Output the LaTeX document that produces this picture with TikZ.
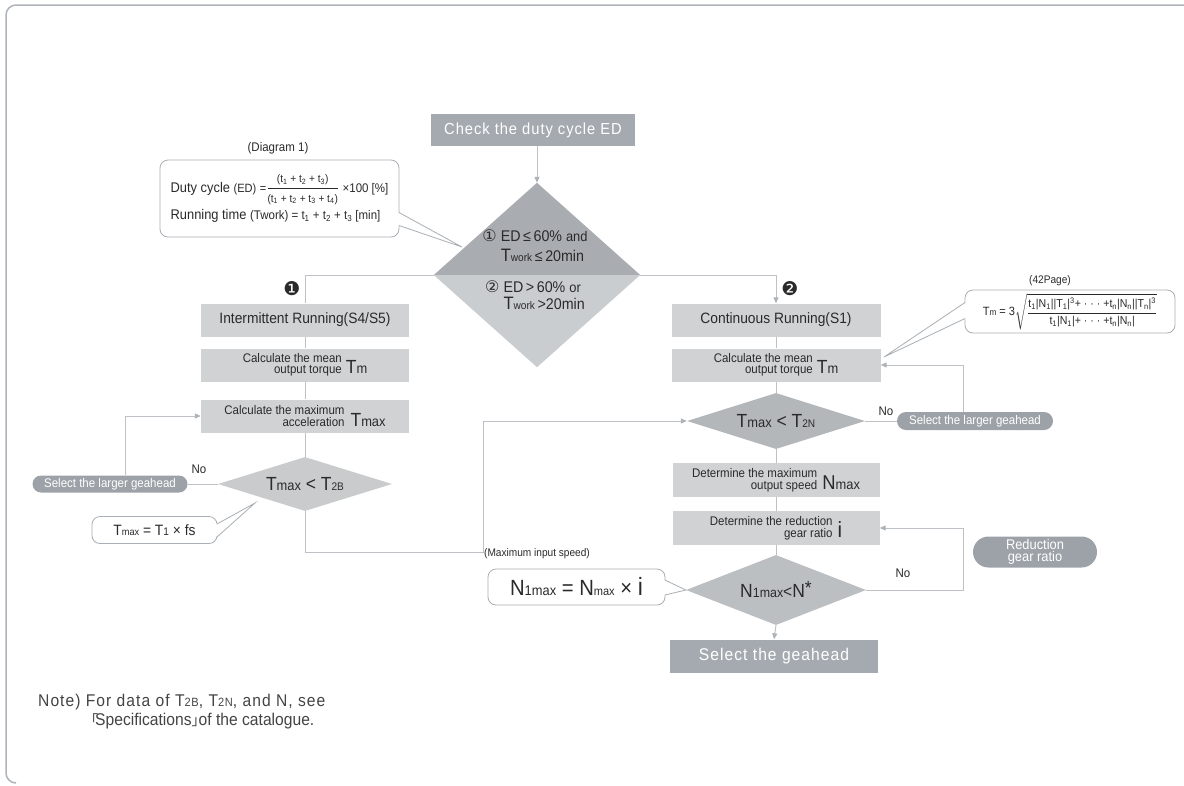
\documentclass[tikz,border=0pt]{standalone}
\usepackage{amsmath}
\usepackage{fontspec}
\setmainfont{Liberation Sans}[FakeStretch=0.92]
\newfontfamily\widefont{Liberation Sans}[FakeStretch=0.92,LetterSpace=6]
\newfontfamily\djv{DejaVu Sans}
\newfontfamily\cjk{Noto Sans CJK JP}
\usetikzlibrary{shapes.geometric,arrows.meta,calc}
\definecolor{dk}{HTML}{A5AAB0}
\definecolor{lt}{HTML}{D0D2D4}
\definecolor{diaB}{HTML}{C9CBCD}
\definecolor{diaN}{HTML}{B4B7BA}
\definecolor{diaR}{HTML}{BCBFC2}
\definecolor{mainup}{HTML}{A9ACB0}
\definecolor{mainlo}{HTML}{CACDCF}
\definecolor{pillc}{HTML}{9DA2A8}
\definecolor{ln}{HTML}{BEC2C6}
\definecolor{ah}{HTML}{AEB3B8}
\definecolor{cb}{HTML}{A9AFB5}
\definecolor{frm}{HTML}{AEB4BA}
\definecolor{txt}{HTML}{2A2A2A}
\definecolor{notec}{HTML}{444444}
\newcommand\fz[1]{\fontsize{#1}{#1}\selectfont}
\newcommand\tsb[1]{\textsubscript{#1}}
\newcommand\tsp[1]{\textsuperscript{#1}}
\begin{document}
\begin{tikzpicture}[x=1pt,y=-1pt,
  line/.style={draw=ln, line width=1pt},
  arr/.style={line, -{Triangle[length=6pt,width=5pt,color=ah]}},
  box/.style={rectangle, fill=lt, text=txt, inner sep=0pt, minimum width=208, minimum height=33},
  dkbox/.style={rectangle, fill=dk, text=white, inner sep=0pt},
  dia/.style={diamond, aspect=2.8, inner sep=0pt, text=txt},
  pill/.style={rectangle, fill=pillc, text=white, inner sep=0pt},
  callout/.style={rectangle, draw=cb, fill=white, line width=0.8pt, rounded corners=8, text=txt, inner sep=4pt},
  lab/.style={text=txt, inner sep=0pt},
  cl/.style={draw=cb, line width=0.8pt}
]
\useasboundingbox (0,0) rectangle (1184,785);
\fill[white] (0,0) rectangle (1184,785);
% frame
\draw[frm, line width=1.5pt, rounded corners=10] (16,783) -- (6,783) -- (6,5) -- (1184,5);

% ---------- top ----------
\node[dkbox, minimum width=204, minimum height=32] (check) at (533,130) {\widefont\fz{16}Check the duty cycle ED};
\node[diamond, minimum width=206, minimum height=184, inner sep=0pt] (dmain) at (537,275) {};
\fill[mainup] (dmain.north) -- (dmain.west) -- (dmain.east) -- cycle;
\fill[mainlo] (dmain.west) -- (dmain.south) -- (dmain.east) -- cycle;
\node[lab] (c1) at (535,248) {{\djv\fz{16}①}\hspace{4pt}{\fz{15.5}\begin{tabular}[t]{@{}l@{}}ED\,≤\,60\% {\fz{14}and}\\[3pt] {\fz{18}T}{\fz{11}work}\,≤\,20min\end{tabular}}};
\node[lab] (c2) at (535,297) {{\djv\fz{16}②}\hspace{4pt}{\fz{15.5}\begin{tabular}[t]{@{}l@{}}ED\,>\,60\% {\fz{14}or}\\[0pt] {\fz{18}T}{\fz{11}work}\,>20min\end{tabular}}};

\node[lab] (m1) at (292,289) {\djv\fz{19}❶};
\node[lab] (m2) at (790,289) {\djv\fz{19}❷};

% duty callout
\node[callout, minimum width=239, minimum height=77, align=left, inner sep=3pt] (cD) at (279.5,198.5)
 {\fz{14}Duty cycle {\fz{12}(ED)} {\fz{12}=}$\dfrac{\mbox{\fz{11}(t\tsb{1} + t\tsb{2} + t\tsb{3})}}{\mbox{\fz{11}(t\tsb{1} + t\tsb{2} + t\tsb{3} + t\tsb{4})}}$ {\fz{12.5}×100 [\%]}\\[4pt]
  \fz{14}Running time {\fz{12.5}(Twork) = t\tsb{1} + t\tsb{2} + t\tsb{3} [min]}};
\node[lab] (dlab) at (278,148) {\fz{12.5}(Diagram 1)};
\coordinate (tD) at (462,247);
\fill[white] ($(cD.east)+(-1.5,14)$) -- (tD) -- ($(cD.east)+(-1.5,27)$) -- cycle;
\draw[cl] ($(cD.east)+(-0.4,14)$) -- (tD) -- ($(cD.east)+(-0.4,27)$);

% ---------- left column ----------
\node[box] (int) at (305,320) {\fz{15}Intermittent Running(S4/S5)};
\node[box] (calcL) at (305,365) {{\fz{12.5}\shortstack[r]{Calculate the mean\\output torque}}\hspace{4pt}{\fz{19}T}{\fz{14}m}};
\node[box] (maxacc) at (305,416) {{\fz{12.5}\shortstack[r]{Calculate the maximum\\acceleration}}\hspace{6pt}{\fz{19}T}{\fz{14}max}};
\node[dia, fill=diaB, minimum width=174, minimum height=54] (dT2B) at (305,484) {\fz{19}T{\fz{14}max} < T{\fz{11}2B}};
\node[pill, minimum width=155, minimum height=17, rounded corners=8.5] (pillL) at (110,484) {\fz{12.5}Select the larger geahead};
\node[lab] (noL) at (199,469) {\fz{12.5}No};
\node[callout, minimum width=125, minimum height=27, inner sep=2pt] (cT) at (154.5,530) {\fz{15}T{\fz{10}max} = T{\fz{11}1} × fs};
\coordinate (tT) at (255,503);
\fill[white] ($(cT.east)+(-1.5,-6)$) -- (tT) -- ($(cT.east)+(-1.5,7)$) -- cycle;
\draw[cl] ($(cT.east)+(-0.4,-6)$) -- (tT) -- ($(cT.east)+(-0.4,7)$);

% ---------- right column ----------
\node[box, minimum width=209] (cont) at (776,320) {\fz{15}Continuous Running(S1)};
\node[box, minimum width=209] (calcR) at (776,365) {{\fz{12.5}\shortstack[r]{Calculate the mean\\output torque}}\hspace{4pt}{\fz{19}T}{\fz{14}m}};
\node[dia, fill=diaN, minimum width=178, minimum height=56] (dT2N) at (776,421) {\fz{19}T{\fz{14}max} < T{\fz{11}2N}};
\node[pill, minimum width=156, minimum height=18, rounded corners=9] (pillR) at (975,421) {\fz{12.5}Select the larger geahead};
\node[lab] (noR) at (886,411) {\fz{12.5}No};
\node[box, minimum width=207, minimum height=34] (nmax) at (776,480) {{\fz{12.5}\shortstack[r]{Determine the maximum\\output speed}}\hspace{5pt}{\fz{20}N}{\fz{14}max}};
\node[box, minimum width=207, minimum height=34] (ratio) at (776,528) {{\fz{12.5}\shortstack[r]{Determine the reduction\\gear ratio}}\hspace{5pt}{\fz{22}i}};
\node[dia, fill=diaR, minimum width=180, minimum height=70, aspect=2.6] (dN) at (776,590) {\fz{19}N{\fz{13.5}1max}{\fz{17}<}N\raisebox{3pt}{*}};
\node[lab] (noN) at (903,573) {\fz{12.5}No};
\node[pill, minimum width=124, minimum height=31, rounded corners=15.5, align=center, font={\fontsize{14}{12}\selectfont}] (pillG) at (1035,552) {Reduction\\gear ratio};
\node[dkbox, minimum width=208, minimum height=33] (final) at (774,656) {\widefont\fz{17}Select the geahead};

% Tm callout
\node[callout, minimum width=210, minimum height=43, inner sep=2pt] (cTm) at (1070,311.5)
 {\fz{12}T{\fz{9}m} = 3$\sqrt{\dfrac{\mbox{\fz{11.5}t\tsb{1}|N\tsb{1}||T\tsb{1}|\tsp{3}+ · · · +t\tsb{n}|N\tsb{n}||T\tsb{n}|\tsp{3}}}{\mbox{\fz{11.5}t\tsb{1}|N\tsb{1}|+ · · · +t\tsb{n}|N\tsb{n}|}}}$};
\node[lab] (p42) at (1050,281) {\fz{11}(42Page)};
\coordinate (tTm) at (884,357);
\fill[white] ($(cTm.west)+(1.5,-9)$) -- (tTm) -- ($(cTm.west)+(1.5,7)$) -- cycle;
\draw[cl] ($(cTm.west)+(0.4,-9)$) -- (tTm) -- ($(cTm.west)+(0.4,7)$);

% N callout
\node[callout, minimum width=177, minimum height=36, inner sep=2pt] (cN) at (576.5,587) {{\fz{22}N}{\fz{14}1max}{\fz{22} = N}{\fz{12}max}{\fz{22} × }{\fz{25}i}};
\node[lab] (mis) at (537,554) {\fz{11}(Maximum input speed)};
\fill[white] ($(cN.east)+(-1.5,-7)$) -- (dN.west) -- ($(cN.east)+(-1.5,8)$) -- cycle;
\draw[cl] ($(cN.east)+(-0.4,-7)$) -- (dN.west) -- ($(cN.east)+(-0.4,8)$);

% note
\node[anchor=west, align=left, text=notec, inner sep=0pt, font={\fontsize{17}{19}\selectfont}] (note) at (38,712)
 {{\widefont Note) For data of T{\fz{12}2B}, T{\fz{12}2N}, and N, see}\\\hspace*{46pt}{\cjk\fz{14}「}\kern-3pt Specifications{\cjk\fz{14}」}\kern-7pt of the catalogue.};

% ---------- connectors ----------
\draw[arr] (check.south -| dmain.north) -- (dmain.north);
\draw[line] (dmain.west) -| (int.north);
\draw[arr] (dmain.east) -| (cont.north);
\draw[line] (int.south) -- (calcL.north);
\draw[line] (calcL.south) -- (maxacc.north);
\draw[line] (maxacc.south) -- (dT2B.north);
\draw[line] (dT2B.west) -- (pillL.east);
\coordinate (lpx) at (125,0);
\draw[arr] (pillL.north -| lpx) |- (maxacc.west);
\coordinate (lpB) at (483,552);
\draw[arr] (dT2B.south) |- (lpB) |- (dT2N.west);
\draw[line] (cont.south) -- (calcR.north);
\draw[line] (calcR.south) -- (dT2N.north);
\draw[line] (dT2N.east) -- (pillR.west);
\coordinate (rpx) at (963,0);
\draw[arr] (pillR.north -| rpx) |- (calcR.east);
\draw[line] (dT2N.south) -- (nmax.north);
\draw[line] (nmax.south) -- (ratio.north);
\draw[line] (ratio.south) -- (dN.north);
\draw[arr] (dN.east) -| (rpx |- ratio.east) -- (ratio.east);
\draw[arr] (dN.south) -- (final.north);
\end{tikzpicture}
\end{document}
